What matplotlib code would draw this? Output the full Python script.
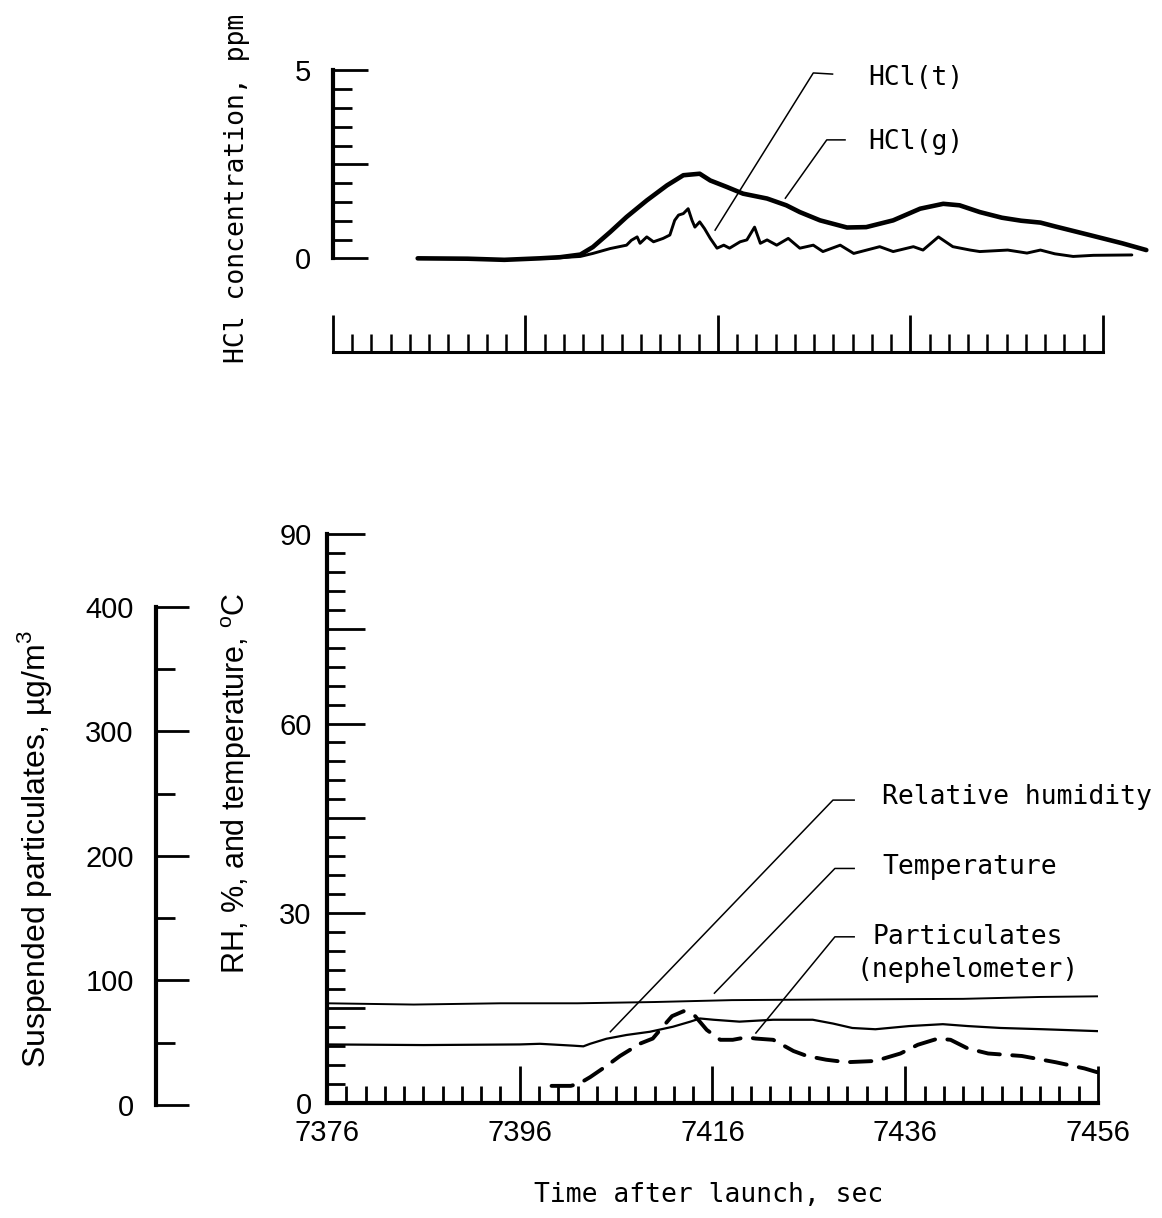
import numpy as np
import matplotlib
matplotlib.use("Agg")
import matplotlib.pyplot as plt
from matplotlib import font_manager
from matplotlib.ticker import FuncFormatter

# ---- data ----
# top panel: HCl concentration, ppm
hcl_g_time = [7384.8, 7390.0, 7393.8, 7397.5, 7399.6, 7401.7, 7403.0, 7404.8, 7406.5,
              7408.6, 7410.7, 7412.4, 7414.1, 7415.2, 7416.9, 7418.6, 7421.1, 7423.1,
              7424.5, 7426.6, 7429.4, 7431.4, 7434.2, 7437.0, 7439.4, 7441.1, 7443.2,
              7445.5, 7447.5, 7449.5, 7451.0, 7454.6, 7458.0, 7460.5]
hcl_g = [0.0, -0.01, -0.04, 0.0, 0.03, 0.10, 0.30, 0.70, 1.10,
         1.54, 1.94, 2.21, 2.25, 2.07, 1.90, 1.72, 1.59, 1.41,
         1.23, 1.01, 0.82, 0.83, 1.01, 1.32, 1.45, 1.41, 1.23,
         1.08, 1.00, 0.95, 0.85, 0.62, 0.40, 0.22]

hcl_t_time = [7398.5, 7401.7, 7403.0, 7404.8, 7406.5, 7407.0, 7407.6, 7407.9, 7408.6,
              7409.3, 7410.3, 7411.0, 7411.5, 7411.9, 7412.4, 7412.9, 7413.3, 7413.6,
              7414.1, 7414.6, 7415.2, 7415.9, 7416.6, 7417.2, 7418.3, 7419.0, 7419.8,
              7420.4, 7421.1, 7422.1, 7423.3, 7424.5, 7425.9, 7426.9, 7428.7, 7430.1,
              7432.8, 7434.2, 7436.3, 7437.3, 7438.9, 7440.4, 7442.2, 7443.2, 7446.1,
              7448.1, 7449.5, 7451.0, 7452.9, 7455.0, 7459.0]
hcl_t = [0.0, 0.05, 0.13, 0.26, 0.35, 0.48, 0.57, 0.40, 0.57,
         0.44, 0.53, 0.62, 1.01, 1.15, 1.19, 1.32, 1.01, 0.83,
         0.97, 0.79, 0.53, 0.27, 0.35, 0.27, 0.44, 0.49, 0.83,
         0.40, 0.49, 0.35, 0.53, 0.27, 0.35, 0.18, 0.35, 0.13,
         0.31, 0.18, 0.31, 0.22, 0.57, 0.31, 0.22, 0.18, 0.22,
         0.14, 0.22, 0.12, 0.05, 0.08, 0.09]

# bottom panel: temperature (C), relative humidity (%), particulates (ug/m3)
temp_time = [7376, 7385, 7394, 7402, 7410, 7418, 7428, 7442, 7450, 7456]
temp = [15.8, 15.6, 15.8, 15.8, 16.0, 16.3, 16.4, 16.5, 16.8, 16.9]

rh_time = [7376, 7386, 7396, 7398.1, 7401.6, 7402.6, 7403.3, 7405.0, 7407.1, 7409.5,
           7411.9, 7413.7, 7414.7, 7416.1, 7418.8, 7422.3, 7426.4, 7428.5, 7430.5,
           7432.9, 7436.4, 7439.9, 7442.5, 7445.9, 7450.3, 7456]
rh = [9.3, 9.2, 9.3, 9.4, 9.1, 9.0, 9.4, 10.2, 10.8, 11.3,
      12.1, 12.9, 13.4, 13.2, 12.9, 13.2, 13.2, 12.6, 11.9,
      11.7, 12.2, 12.5, 12.2, 11.9, 11.7, 11.4]

part_time = [7399.3, 7401.3, 7402.2, 7403.3, 7405.0, 7406.4, 7408.5, 7409.8, 7410.9,
             7411.8, 7413.0, 7414.2, 7415.4, 7416.8, 7418.1, 7419.5, 7420.5, 7422.3,
             7424.4, 7425.8, 7427.8, 7429.9, 7432.9, 7435.5, 7437.3, 7439.4, 7440.7,
             7442.5, 7444.6, 7448.1, 7451.6, 7454.6, 7455.9]
particulates = [14, 14, 16, 21, 30, 38, 48, 52, 62,
                70, 74, 70, 59, 51, 51, 53, 52, 51,
                42, 38, 35, 33, 34, 40, 47, 52, 51,
                44, 40, 38, 33, 28, 25]

# ---- fonts ----
names = {f.name for f in font_manager.fontManager.ttflist}
if "Liberation Sans Narrow" in names:
    tick_font, tick_size = "Liberation Sans Narrow", 23
else:
    tick_font, tick_size = "Liberation Sans", 21
sans = "Liberation Sans"
mono = "DejaVu Sans Mono"
plt.rcParams["mathtext.fontset"] = "custom"
plt.rcParams["mathtext.rm"] = sans

fig = plt.figure(figsize=(11.62, 12.18), dpi=100)

# ---- top panel ----
axt = fig.add_axes([0.28657, 0.70764, 0.71235, 0.24080])
axt.set_xlim(7376, 7462)
axt.set_ylim(-2.6, 5.2)
axt.plot(hcl_g_time, hcl_g, color="black", lw=3.3, solid_joinstyle="round", solid_capstyle="round")
axt.plot(hcl_t_time, hcl_t, color="black", lw=2.1, solid_joinstyle="round", solid_capstyle="round")

for s in ["top", "right"]:
    axt.spines[s].set_visible(False)
axt.spines["left"].set_bounds(0, 5)
axt.spines["left"].set_linewidth(3)
axt.spines["bottom"].set_position(("data", -2.5))
axt.spines["bottom"].set_bounds(7376, 7456)
axt.spines["bottom"].set_linewidth(2.2)

axt.set_yticks([0, 2.5, 5])
axt.set_yticks(np.arange(0, 5.01, 0.5), minor=True)
axt.yaxis.set_major_formatter(FuncFormatter(lambda v, p: "" if v == 2.5 else f"{v:.0f}"))
axt.set_xticks(np.arange(7376, 7457, 20))
axt.set_xticks(np.arange(7376, 7457, 2), minor=True)
axt.set_xticklabels([])
axt.tick_params(axis="y", which="major", direction="in", length=25, width=2, pad=16)
axt.tick_params(axis="y", which="minor", direction="in", length=14, width=2)
axt.tick_params(axis="x", which="major", direction="in", length=27, width=2)
axt.tick_params(axis="x", which="minor", direction="in", length=13, width=1.8)
for lab in axt.get_yticklabels():
    lab.set_fontfamily(tick_font)
    lab.set_fontsize(tick_size)

# leader lines + labels
axt.plot([7415.7, 7425.9, 7427.9], [0.75, 4.93, 4.90], color="black", lw=1.1, clip_on=False)
axt.plot([7423.0, 7427.3, 7429.2], [1.60, 3.15, 3.15], color="black", lw=1.1, clip_on=False)
axt.text(7431.6, 4.80, "HCl(t)", family=mono, fontsize=19, ha="left", va="center")
axt.text(7431.6, 3.09, "HCl(g)", family=mono, fontsize=19, ha="left", va="center")

# ---- bottom panel ----
ax = fig.add_axes([0.28141, 0.09417, 0.66351, 0.46773])
ax.set_xlim(7376, 7456)
ax.set_ylim(0, 90)
ax.plot(temp_time, temp, color="black", lw=1.4)
ax.plot(rh_time, rh, color="black", lw=1.6)

ax2 = ax.twinx()
ax2.set_ylim(0, 457.6)
ax2.axis("off")
ax2.plot(part_time, particulates, color="black", lw=2.8, dashes=(5.5, 3.2),
         dash_capstyle="round")

for s in ["top", "right"]:
    ax.spines[s].set_visible(False)
for s in ["left", "bottom"]:
    ax.spines[s].set_linewidth(3)

ax.set_xticks(np.arange(7376, 7457, 20))
ax.set_xticks(np.arange(7376, 7457, 2), minor=True)
ax.set_yticks(np.arange(0, 91, 15))
ax.set_yticks(np.arange(0, 91, 3), minor=True)
ax.yaxis.set_major_formatter(FuncFormatter(lambda v, p: f"{v:.0f}" if v % 30 == 0 else ""))
ax.tick_params(axis="x", which="major", direction="in", length=27, width=2, pad=11)
ax.tick_params(axis="x", which="minor", direction="in", length=12.5, width=2)
ax.tick_params(axis="y", which="major", direction="in", length=27, width=2, pad=11)
ax.tick_params(axis="y", which="minor", direction="in", length=13, width=2)
for lab in ax.get_xticklabels() + ax.get_yticklabels():
    lab.set_fontfamily(tick_font)
    lab.set_fontsize(tick_size)

ax.plot([7405.4, 7428.5, 7430.7], [11.3, 47.9, 47.9], color="black", lw=1.1)
ax.plot([7416.2, 7428.7, 7430.7], [17.4, 37.1, 37.1], color="black", lw=1.1)
ax.plot([7420.5, 7428.7, 7430.7], [11.1, 26.3, 26.3], color="black", lw=1.1)
ax.text(7433.6, 48.4, "Relative humidity", family=mono, fontsize=19, ha="left", va="center")
ax.text(7433.6, 37.3, "Temperature", family=mono, fontsize=19, ha="left", va="center")
ax.text(7442.5, 23.6, "Particulates\n(nephelometer)", family=mono, fontsize=19,
        ha="center", va="center", multialignment="center", linespacing=1.35)

# ---- separate particulates scale on the left ----
axl = fig.add_axes([0.13425, 0.09278, 0.02, 0.40887])
axl.set_ylim(0, 400)
axl.xaxis.set_visible(False)
axl.patch.set_visible(False)
for s in ["top", "right", "bottom"]:
    axl.spines[s].set_visible(False)
axl.spines["left"].set_linewidth(3)
axl.set_yticks(np.arange(0, 401, 100))
axl.set_yticks(np.arange(0, 401, 50), minor=True)
axl.tick_params(axis="y", which="major", direction="in", length=24, width=2, pad=16)
axl.tick_params(axis="y", which="minor", direction="in", length=14, width=2)
for lab in axl.get_yticklabels():
    lab.set_fontfamily(tick_font)
    lab.set_fontsize(tick_size)

# ---- axis titles ----
fig.text(0.204, 0.8456, "HCl concentration, ppm", family=mono, fontsize=19,
         rotation=90, ha="center", va="center")
fig.text(0.204, 0.3567, r"RH, %, and temperature, $^{\mathrm{o}}$C", family=sans,
         fontsize=22, rotation=90, ha="center", va="center")
fig.text(0.0301, 0.3025, "Suspended particulates, \u00b5g/m$^{3}$", family=sans,
         fontsize=23, rotation=90, ha="center", va="center")
fig.text(0.6102, 0.0189, "Time after launch, sec", family=mono, fontsize=19,
         ha="center", va="center")

fig.savefig("out.png", dpi=100)
plt.close(fig)
